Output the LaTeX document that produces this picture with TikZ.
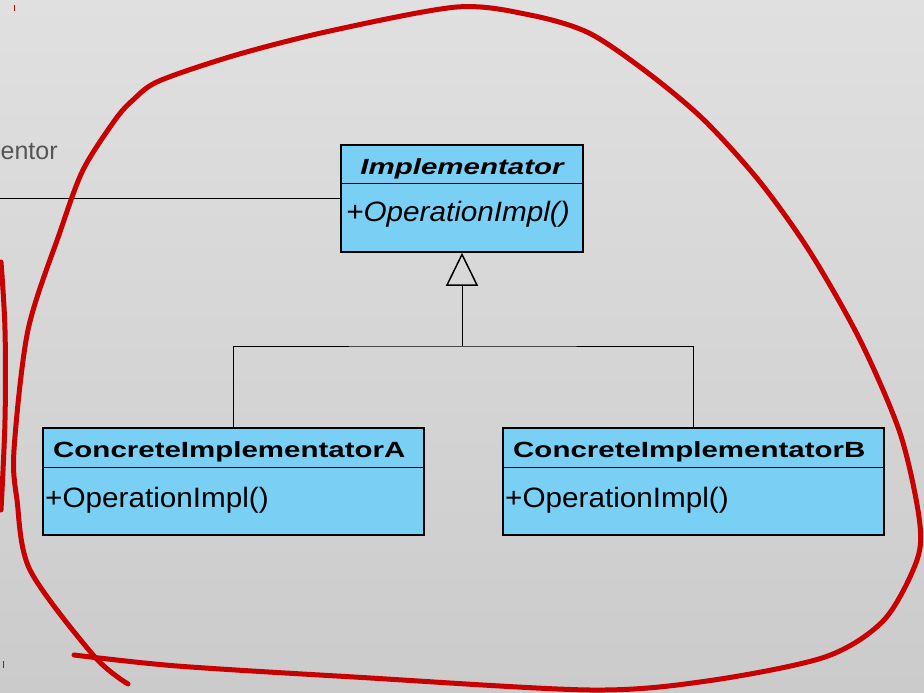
\documentclass[tikz,border=0pt]{standalone}
\usepackage{fontspec}
\setmainfont{Liberation Sans}
\newfontfamily\umltitle[FakeStretch=1.34]{Liberation Sans}
\newfontfamily\umlbody[FakeStretch=1.06]{Liberation Sans}
\usetikzlibrary{arrows.meta}
\definecolor{classfill}{RGB}{122,207,244}
\definecolor{pen}{RGB}{200,0,0}
\definecolor{bgtop}{RGB}{224,224,224}
\definecolor{bgbot}{RGB}{203,203,203}
\definecolor{labelgray}{RGB}{85,85,85}
\tikzset{
  classbox/.style={draw=black, line width=1.5pt, fill=classfill, inner sep=0pt},
  divider/.style={draw=black, line width=1.5pt},
  titletext/.style={inner sep=0pt, font=\umltitle\bfseries\fontsize{22}{24}\selectfont},
  opstext/.style={inner sep=0pt, anchor=base west, font=\umlbody\fontsize{28}{30}\selectfont},
  link/.style={draw=black, line width=1pt},
  ink/.style={draw=pen, line width=5pt, line cap=round, line join=round},
}
\begin{document}
\begin{tikzpicture}[x=1pt, y=-1pt]
  % canvas
  \shade[top color=bgtop, bottom color=bgbot] (0,0) rectangle (924,693);
  \useasboundingbox (0,0) rectangle (924,693);

  % class boxes
  \node[classbox, minimum width=242pt, minimum height=107pt] (impl) at (462,198.5) {};
  \node[classbox, minimum width=381pt, minimum height=107pt] (ca) at (233.5,481.5) {};
  \node[classbox, minimum width=381pt, minimum height=107pt] (cb) at (693.5,481.5) {};

  % compartment lines
  \draw[divider] ([yshift=-39pt]impl.north west) -- ([yshift=-39pt]impl.north east);
  \draw[divider] ([yshift=-40pt]ca.north west) -- ([yshift=-40pt]ca.north east);
  \draw[divider] ([yshift=-40pt]cb.north west) -- ([yshift=-40pt]cb.north east);

  % class names and operations
  \node[titletext, anchor=base] (implname) at (462,174) {\itshape Implementator};
  \node[opstext] (implop) at (346,221) {\itshape +OperationImpl()};
  \node[titletext, anchor=base west] (caname) at (53,457) {ConcreteImplementatorA};
  \node[opstext] (caop) at (45,507) {+OperationImpl()};
  \node[titletext, anchor=base west] (cbname) at (513,457) {ConcreteImplementatorB};
  \node[opstext] (cbop) at (505,507) {+OperationImpl()};

  % association coming in from the left
  \node[anchor=base west, inner sep=0pt, text=labelgray, font=\fontsize{25}{27}\selectfont] (assoc) at (0.5,159) {entor};
  \coordinate (assocend) at (0,198);
  \draw[link] (assocend) -- (impl.west |- assocend);

  % generalization
  \coordinate (junction) at (462,346);
  \draw[link] (ca.north) |- (junction) -| (cb.north);
  \draw[link, -{Triangle[open, length=33pt, width=32pt, line width=1.5pt]}] (junction) -- (impl.south);

  % hand-drawn red loop around the implementor hierarchy
  \draw[ink] plot[smooth, tension=0.5] coordinates {
    (74,655) (177,666) (354,677) (590,690) (707,681) (825,657) (884,620)
    (917,560) (919,517) (900,433) (860,340) (810,252) (760,182) (704,120)
    (648,73) (589,33) (530,15) (457,7) (330,31) (236,55) (159,81) (133,100) (115,120) (83,170)
    (60,232) (28,330) (14,450) (17,500) (30,570) (94,656) (128,684)};
  % neighbouring stroke at the left edge
  \draw[ink] plot[smooth, tension=0.6] coordinates {(1,262) (5,330) (5,420) (1,510)};
  % small marks
  \draw[draw=pen, line width=1pt] (14,5) -- (14,11);
  \draw[draw=pen, line width=1pt] (3,661) -- (3,668);
\end{tikzpicture}
\end{document}
